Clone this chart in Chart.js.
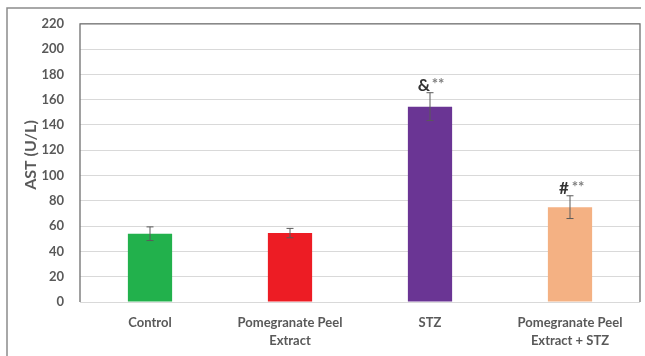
<!DOCTYPE html>
<html>
<head>
<meta charset="utf-8">
<script src="https://cdn.jsdelivr.net/npm/chart.js@4.4.1/dist/chart.umd.min.js"></script>
<style>
  html, body { margin: 0; padding: 0; background: #ffffff; }
  #wrap { width: 645px; height: 356px; position: relative; }
</style>
</head>
<body>
<div id="wrap"><canvas id="c" width="645" height="356"></canvas></div>
<script>
// AST (U/L) by treatment group
const categories = [
  ['Control'],
  ['Pomegranate Peel', 'Extract'],
  ['STZ'],
  ['Pomegranate Peel', 'Extract + STZ']
];
const astMeans = [54, 54.5, 154.5, 75];
const astErrors = [5.4, 3.7, 11, 9];
const significance = [['', ''], ['', ''], ['&', '**'], ['#', '**']];
const barColors = ['#22b14c', '#ed1c24', '#6a3594', '#f4b183'];
const yTicks = [0, 20, 40, 60, 80, 100, 120, 140, 160, 180, 200, 220];
const yTitle = 'AST (U/L)';

const FONT = 'Lato, "Open Sans", sans-serif';
const TEXT = '#595959';

// Frame around the figure, box around the plot area, y-axis title
const framePlugin = {
  id: 'frame',
  afterDraw(chart) {
    const { ctx, chartArea: a } = chart;
    ctx.save();
    ctx.strokeStyle = '#8c8c8c';
    ctx.lineWidth = 1.5;
    ctx.beginPath();
    ctx.moveTo(7, 356);
    ctx.lineTo(7, 8);
    ctx.lineTo(641, 8);
    ctx.stroke();
    ctx.strokeStyle = '#6f6f6f';
    ctx.lineWidth = 1.3;
    ctx.beginPath();
    ctx.moveTo(a.left, a.bottom);
    ctx.lineTo(a.left, a.top);
    ctx.lineTo(a.right, a.top);
    ctx.lineTo(a.right, a.bottom);
    ctx.stroke();

    ctx.translate(31, 155);
    ctx.rotate(-Math.PI / 2);
    ctx.fillStyle = TEXT;
    ctx.font = 'bold 16px ' + FONT;
    ctx.textAlign = 'center';
    ctx.textBaseline = 'middle';
    ctx.fillText(yTitle, 0, 0);
    ctx.restore();
  }
};

// Error bars (mean ± SD) and significance marks
const errorBarPlugin = {
  id: 'errorBars',
  afterDatasetsDraw(chart) {
    const { ctx } = chart;
    const y = chart.scales.y;
    const meta = chart.getDatasetMeta(0);
    ctx.save();
    meta.data.forEach((bar, i) => {
      const x = bar.x;
      const top = y.getPixelForValue(astMeans[i] + astErrors[i]);
      const bot = y.getPixelForValue(astMeans[i] - astErrors[i]);
      ctx.strokeStyle = '#5a5a5a';
      ctx.lineWidth = 1;
      ctx.beginPath();
      ctx.moveTo(x, top); ctx.lineTo(x, bot);
      ctx.moveTo(x - 3.5, top); ctx.lineTo(x + 3.5, top);
      ctx.moveTo(x - 3.5, bot); ctx.lineTo(x + 3.5, bot);
      ctx.stroke();

      const [mark, stars] = significance[i];
      if (mark) {
        ctx.fillStyle = '#333333';
        ctx.font = 'bold 17px ' + FONT;
        ctx.textAlign = 'center';
        ctx.textBaseline = 'alphabetic';
        ctx.fillText(mark, x - 6, top - 2);
        ctx.fillStyle = '#7f7f7f';
        ctx.font = 'bold 15px ' + FONT;
        ctx.fillText(stars, x + 8, top - 4);
      }
    });
    ctx.restore();
  }
};

new Chart(document.getElementById('c'), {
  type: 'bar',
  data: {
    labels: categories,
    datasets: [{
      data: astMeans,
      backgroundColor: barColors,
      borderWidth: 0,
      categoryPercentage: 1,
      barPercentage: 0.316
    }]
  },
  options: {
    responsive: false,
    animation: false,
    devicePixelRatio: 1,
    layout: { padding: { top: 23, right: 5, left: 0, bottom: 0 } },
    plugins: { legend: { display: false }, tooltip: { enabled: false } },
    scales: {
      x: {
        grid: { display: false, drawTicks: false },
        border: { display: false },
        ticks: {
          color: TEXT,
          padding: 12,
          maxRotation: 0,
          autoSkip: false,
          font: { family: FONT, size: 13, weight: 'bold', lineHeight: 1.35 }
        },
        afterFit(scale) { scale.height = 54; }
      },
      y: {
        min: 0,
        max: 220,
        afterBuildTicks(scale) { scale.ticks = yTicks.map(v => ({ value: v })); },
        grid: { color: '#d9d9d9', lineWidth: 1, drawTicks: false },
        border: { display: false },
        ticks: {
          color: TEXT,
          padding: 16,
          font: { family: FONT, size: 13, weight: 'bold' }
        },
        afterFit(scale) { scale.width = 80; }
      }
    }
  },
  plugins: [framePlugin, errorBarPlugin]
});
</script>
</body>
</html>
